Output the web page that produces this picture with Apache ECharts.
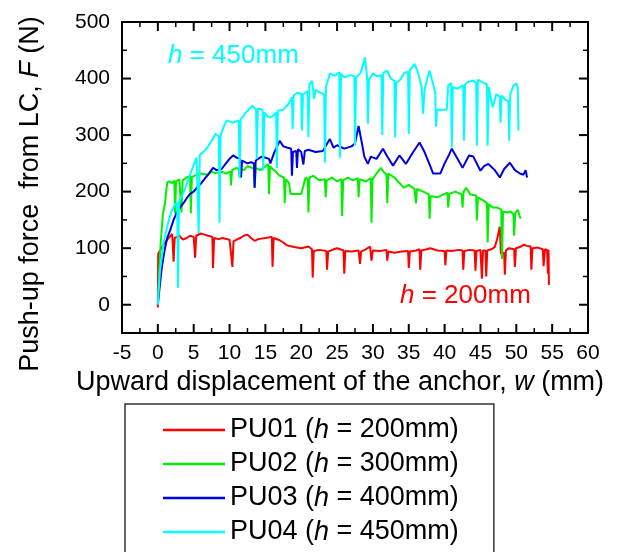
<!DOCTYPE html>
<html><head><meta charset="utf-8">
<script src="https://cdn.jsdelivr.net/npm/echarts@6/dist/echarts.min.js"></script>
<style>html,body{margin:0;padding:0;background:#fff}#c{width:622px;height:552px}</style>
</head><body><div id="c"></div>
<script>
// ---- data (w in mm, F in N) ----
const seriesNames = ['PU01', 'PU02', 'PU03', 'PU04'];
const seriesHeights = ['200', '300', '400', '450'];
const seriesColors = ['#ff0000', '#00f000', '#0000e0', '#00ffff'];
const xTicks = [-5, 0, 5, 10, 15, 20, 25, 30, 35, 40, 45, 50, 55, 60];
const xMinorTicks = [-2.5, 2.5, 7.5, 12.5, 17.5, 22.5, 27.5, 32.5, 37.5, 42.5, 47.5, 52.5, 57.5];
const yTicks = [0, 100, 200, 300, 400, 500];
const yMinorTicks = [-50, 50, 150, 250, 350, 450];

const pu01 = [[0,-5],[0.05,90],[0.5,100],[1,110],[1.5,118],[2,125],[2.2,76],[2.35,118],[3,122],[3.5,115],[4,118],[4.5,122],[5,120],[5.2,83],[5.35,122],[6,126],[6.5,124],[7,122],[7.6,120],[7.7,65],[7.85,118],[8.5,116],[9,118],[10,115],[10.4,67],[10.55,112],[11,115],[11.5,118],[12,122],[12.5,124],[13,118],[13.5,113],[14,116],[15,118],[15.9,120],[16,67],[16.15,118],[17,114],[17.5,110],[18,105],[19,102],[20,100],[21,103],[21.5,98],[21.6,48],[21.75,95],[22.5,97],[23.5,95],[23.6,62],[23.75,94],[24.5,98],[25,100],[25.9,96],[26,55],[26.15,95],[27,94],[28,96],[28.2,72],[28.35,94],[29,98],[29.6,103],[29.8,78],[30,96],[31,95],[31.9,97],[32,78],[32.15,94],[33,92],[34,94],[34.9,95],[35,65],[35.15,94],[36,96],[36.5,98],[36.6,62],[36.75,96],[37.5,98],[38,100],[39,96],[40,95],[40.1,70],[40.25,96],[41,95],[42,97],[42.5,96],[42.6,62],[42.75,95],[43.5,97],[44.2,96],[44.3,60],[44.45,95],[45,97],[45.2,46],[45.35,96],[45.7,96],[45.8,50],[45.95,96],[46.5,98],[47,102],[47.3,115],[47.7,138],[47.85,90],[48.3,92],[48.4,53],[48.55,96],[49,100],[49.7,98],[49.8,67],[49.95,100],[50.5,102],[51,106],[51.5,104],[52,103],[52.1,62],[52.25,100],[53,101],[53.7,98],[53.8,68],[54,98],[54.3,97],[54.4,55],[54.5,97],[54.55,35]];

const pu02 = [[0,0],[0.2,60],[0.4,110],[0.7,160],[1,180],[1.3,216],[1.6,218],[2,215],[2.3,220],[2.4,162],[2.55,218],[3,222],[3.2,220],[3.3,163],[3.45,220],[4,225],[4.5,228],[4.6,162],[4.75,226],[5.5,230],[6,232],[7,230],[7.5,235],[8,233],[9,235],[9.5,232],[10.1,236],[10.2,211],[10.35,238],[11,242],[11.3,240],[11.4,225],[11.55,240],[12,238],[12.5,245],[13,243],[13.4,240],[13.5,207],[13.65,242],[14.3,238],[15,245],[15.4,249],[15.5,196],[15.65,245],[16,240],[16.5,235],[17,228],[17.6,225],[17.7,180],[17.85,222],[18.3,215],[18.5,196],[20,196],[20.3,210],[20.6,225],[20.9,222],[21,163],[21.15,225],[21.7,228],[22.5,220],[23.3,222],[23.4,190],[23.55,220],[24.3,225],[25,218],[25.6,222],[25.7,157],[25.85,220],[26.5,225],[27.2,220],[27.9,224],[28,190],[28.15,222],[29,218],[29.7,224],[29.8,145],[29.95,222],[30.5,232],[31.1,242],[31.5,235],[31.9,230],[32,180],[32.15,232],[33,225],[33.5,218],[34.3,207],[35,212],[35.8,205],[36,179],[36.15,205],[37,200],[37.8,195],[37.9,152],[38.05,192],[39,190],[40,196],[40.4,198],[40.5,172],[40.65,196],[41.5,200],[42.4,195],[42.5,172],[42.65,200],[43,207],[43.6,195],[44.4,193],[44.5,149],[44.65,190],[45.3,185],[45.9,180],[46,110],[46.15,178],[46.7,172],[47.3,172],[47.9,168],[48,81],[48.15,165],[48.7,163],[49.2,165],[49.6,160],[49.7,122],[49.85,162],[50.2,168],[50.6,152]];

const pu03 = [[0,0],[0.2,25],[0.5,60],[0.7,78],[1,100],[1.3,118],[1.7,131],[2.2,150],[2.6,162],[3.1,172],[3.6,180],[4,188],[4.5,196],[5,200],[5.5,208],[6,214],[6.5,222],[7,230],[7.7,242],[8.2,238],[8.9,240],[9.5,250],[10,258],[10.5,264],[11,260],[11.5,258],[11.6,225],[11.75,255],[12.5,250],[13,252],[13.4,250],[13.5,207],[13.65,255],[14.5,262],[15.5,258],[15.7,250],[16.2,268],[17,290],[17.5,280],[18,278],[18.6,276],[18.7,228],[18.85,270],[19.3,272],[19.4,242],[19.55,275],[20,270],[20.3,248],[20.5,272],[21,274],[22,270],[23,272],[24,293],[24.5,278],[25,282],[26,276],[27,280],[27.5,285],[28,316],[28.4,290],[28.8,262],[29.3,249],[29.7,262],[30.5,258],[31.4,276],[32,262],[32.8,246],[33.7,264],[34.6,249],[35.5,268],[36.5,287],[37.2,270],[38,245],[38.4,232],[39.4,232],[40,250],[40.5,262],[41,276],[41.8,258],[42.5,242],[43.4,264],[44,262],[45,237],[45.5,245],[46.1,249],[47,238],[47.7,225],[48.3,240],[49.1,251],[49.8,238],[50.5,232],[51,230],[51.3,238],[51.5,225]];

const pu04 = [[0,0],[0.3,60],[0.8,110],[1.4,143],[1.9,165],[2.4,178],[2.7,180],[2.8,30],[2.95,182],[3.7,202],[4.2,220],[4.7,237],[5.4,260],[5.6,262],[5.7,127],[5.85,265],[6.5,272],[7,280],[7.5,290],[8,302],[8.5,298],[8.6,145],[8.75,300],[9.2,315],[9.6,326],[10.5,322],[11.3,326],[11.4,225],[11.55,328],[12.3,340],[13.2,352],[13.7,345],[13.8,258],[13.95,347],[14.6,345],[14.7,237],[14.85,340],[15.5,331],[16,333],[16.5,340],[16.6,242],[16.75,343],[17.5,345],[18.2,355],[18.7,367],[18.8,311],[18.95,370],[19.5,375],[20,373],[20.1,308],[20.25,372],[20.9,378],[21,296],[21.15,390],[21.5,396],[21.8,364],[22,380],[22.6,375],[23.2,372],[23.3,251],[23.45,385],[24,409],[24.7,405],[25.3,411],[25.4,260],[25.55,408],[26,402],[26.8,406],[27.4,404],[27.5,281],[27.65,402],[28.3,410],[28.9,437],[29.2,400],[29.3,320],[29.45,398],[30,409],[30.6,404],[31.2,406],[31.3,300],[31.45,410],[32,414],[32.5,400],[33,396],[33.1,296],[33.25,392],[33.8,398],[34.4,410],[34.9,412],[35,302],[35.15,414],[35.8,426],[36.3,410],[36.8,385],[37,338],[37.2,380],[37.6,400],[37.9,414],[38.4,390],[38.7,375],[38.8,315],[38.95,345],[40.3,345],[40.5,388],[40.9,392],[41,278],[41.15,385],[41.8,382],[42.6,388],[42.7,290],[42.85,390],[43.4,395],[44,396],[44.4,392],[44.5,281],[44.65,398],[45.3,393],[45.9,390],[46,281],[46.15,385],[46.7,349],[47.2,372],[47.7,368],[47.8,322],[47.95,370],[48.5,362],[48.9,360],[49,290],[49.15,372],[49.6,388],[50,391],[50.2,385],[50.3,308]];

const seriesData = [pu01, pu02, pu03, pu04];

// ---- chart ----
const FONT = '"Liberation Sans", Arial, sans-serif';
const italic = {fontStyle: 'italic', fontFamily: FONT, fontSize: 27, color: '#000'};
const axisLineStyle = {color: '#000', width: 2};

function xAxisCfg(pos, showLabel) {
  return {
    type: 'value', position: pos, min: -5, max: 60, interval: 5,
    axisLine: {show: true, onZero: false, lineStyle: axisLineStyle},
    axisTick: {show: false},
    minorTick: {show: false},
    axisLabel: {show: showLabel, fontSize: 21, fontFamily: FONT, color: '#000', margin: 10},
    splitLine: {show: false}, minorSplitLine: {show: false}
  };
}
function yAxisCfg(pos, showLabel) {
  return {
    type: 'value', position: pos, min: -50, max: 500,
    axisLine: {show: true, onZero: false, lineStyle: axisLineStyle},
    axisTick: {show: false},
    axisLabel: {show: showLabel, fontSize: 21, fontFamily: FONT, color: '#000', margin: 12, customValues: yTicks},
    splitLine: {show: false}
  };
}

const xMain = xAxisCfg('bottom', true);
xMain.name = 'Upward displacement of the anchor, {i|w} (mm)';
xMain.nameLocation = 'middle';
xMain.nameGap = 36;
xMain.nameTextStyle = {fontSize: 27, fontFamily: FONT, color: '#000', padding: [0, 30, 0, 0], rich: {i: italic}};

const yMain = yAxisCfg('left', true);
yMain.name = 'Push-up force  from LC, {i|F} (N)';
yMain.nameLocation = 'middle';
yMain.nameGap = 78;
yMain.nameTextStyle = {fontSize: 27, fontFamily: FONT, color: '#000', padding: [0, 33, 0, 0], rich: {i: italic}};

const annotations = [
  {type: 'text', left: 168, top: 43, z: 100,
    style: {text: '{i|h} = 450mm', fill: '#00ffff', fontSize: 26, fontFamily: FONT,
      rich: {i: {fontStyle: 'italic', fontSize: 26, fontFamily: FONT, fill: '#00ffff'}}}},
  {type: 'text', left: 400, top: 283, z: 100,
    style: {text: '{i|h} = 200mm', fill: '#ff0000', fontSize: 26, fontFamily: FONT,
      rich: {i: {fontStyle: 'italic', fontSize: 26, fontFamily: FONT, fill: '#ff0000'}}}}
];

const option = {
  animation: false,
  backgroundColor: '#fff',
  grid: {left: 122, top: 22, right: 34, bottom: 219, outerBoundsMode: 'none', containLabel: false},
  xAxis: [xMain, xAxisCfg('top', false)],
  yAxis: [yMain, yAxisCfg('right', false)],
  legend: {
    orient: 'vertical', left: 125, top: 404, height: 200,
    padding: [11, 35, 40, 38],
    borderColor: '#333', borderWidth: 1.5,
    icon: 'rect', itemWidth: 62, itemHeight: 2.5, itemGap: 4,
    data: seriesNames,
    formatter: function (name) {
      const h = seriesHeights[seriesNames.indexOf(name)];
      return name + ' ({i|h} = ' + h + 'mm)';
    },
    textStyle: {fontSize: 27, lineHeight: 30, fontFamily: FONT, color: '#000',
      rich: {i: Object.assign({lineHeight: 30}, italic)}}
  },
  graphic: annotations,
  series: seriesNames.map((n, i) => ({
    name: n, type: 'line', xAxisIndex: 0, yAxisIndex: 0,
    data: seriesData[i], symbol: 'none',
    lineStyle: {color: seriesColors[i], width: 2},
    itemStyle: {color: seriesColors[i]}
  }))
};
const chart = echarts.init(document.getElementById('c'));
chart.setOption(option);

// inward tick marks on all four sides, placed through the axes' own scales
const toX = v => chart.convertToPixel({xAxisIndex: 0}, v);
const toY = v => chart.convertToPixel({yAxisIndex: 0}, v);
const xL = toX(-5), xR = toX(60), yB = toY(-50), yT = toY(500);
const tickEls = [];
function tick(x1, y1, x2, y2, w) {
  tickEls.push({type: 'line', z: 50, silent: true,
    shape: {x1: x1, y1: y1, x2: x2, y2: y2}, style: {stroke: '#000', lineWidth: w}});
}
xTicks.forEach(v => { const x = toX(v); tick(x, yB, x, yB - 9, 2); tick(x, yT, x, yT + 9, 2); });
xMinorTicks.forEach(v => { const x = toX(v); tick(x, yB, x, yB - 5, 1.5); tick(x, yT, x, yT + 5, 1.5); });
yTicks.forEach(v => { const y = toY(v); tick(xL, y, xL + 9, y, 2); tick(xR, y, xR - 9, y, 2); });
yMinorTicks.forEach(v => { const y = toY(v); tick(xL, y, xL + 5, y, 1.5); tick(xR, y, xR - 5, y, 1.5); });
chart.setOption({graphic: annotations.concat(tickEls)});
</script></body></html>
